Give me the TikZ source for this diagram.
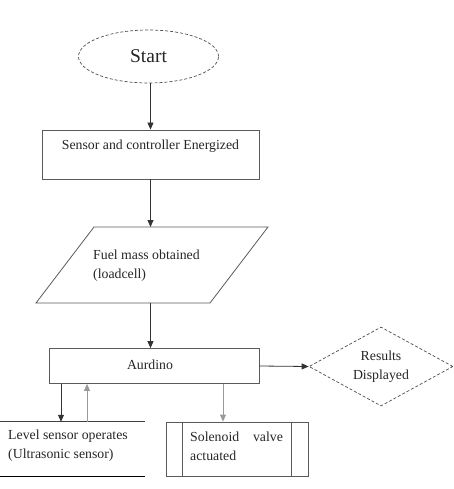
\documentclass[tikz,border=0pt]{standalone}
\usepackage{fontspec}
\setmainfont{Liberation Serif}
\usetikzlibrary{shapes.geometric,arrows.meta}

\definecolor{lineclr}{HTML}{5a5a5a}
\definecolor{lightclr}{HTML}{9a9a9a}

\tikzset{
  txt/.style={font=\fontsize{13.8}{19}\selectfont, text=black!85, inner sep=0pt},
  box/.style={rectangle, draw=lineclr, line width=0.8pt, inner sep=0pt},
  dashbox/.style={draw=black!70, dash pattern=on 3pt off 2pt, line width=0.7pt, inner sep=0pt},
  arr/.style={-{Triangle[length=7pt,width=6pt]}, line width=0.8pt, draw=black!80},
}

\begin{document}
\begin{tikzpicture}[x=1pt,y=-1pt]

\useasboundingbox (0,0) rectangle (453,489);

% start and power up
\node (start) at (148.5,56.5) [ellipse, dashbox, minimum width=140pt, minimum height=53pt, txt, font=\fontsize{19.5}{22}\selectfont] {Start};
\node (energ) at (150.5,154.5) [box, minimum width=217pt, minimum height=49pt] {};
\node (energtxt) at (150.5,146) [txt] {Sensor and controller Energized};

% load cell input
\draw[lineclr, line width=0.8pt] (94,227) -- (268,227) -- (210,303) -- (36,303) -- cycle;
\coordinate (fueltop) at (150.5,227);
\coordinate (fuelbot) at (150.5,303);
\node (fueltxt) at (93,266) [txt, anchor=west, align=left] {Fuel mass obtained\\(loadcell)};

% controller and output
\node (aurdino) at (154,366) [box, minimum width=210pt, minimum height=35pt] {};
\node (aurdinotxt) at (150,365) [txt] {Aurdino};
\node (result) at (381,366.5) [diamond, aspect=1.82, dashbox, minimum width=144pt, minimum height=79pt, txt, align=center] {Results\\Displayed};

% sensor and valve
\node (level) at (72.5,449) [minimum width=145pt, minimum height=54pt, inner sep=0pt] {};
\draw[line width=0.8pt, black!75] (level.north west) -- (level.north east);
\draw[line width=1pt, black] (level.south west) -- (level.south east);
\node (leveltxt) at (8,446) [txt, anchor=west, align=left] {Level sensor operates\\(Ultrasonic sensor)};

\node (valve) at (237,449) [box, minimum width=142pt, minimum height=54pt] {};
\draw[lineclr, line width=0.8pt] ([xshift=17pt]valve.north west) -- ([xshift=17pt]valve.south west);
\draw[lineclr, line width=0.8pt] ([xshift=-17pt]valve.north east) -- ([xshift=-17pt]valve.south east);
\node (valvetxt) at (190,446) [txt, anchor=west, align=left] {Solenoid\quad valve\\actuated};

\coordinate (down) at (61,0);
\coordinate (up) at (87,0);
\coordinate (valvein) at (223,0);

\draw[arr] (start.south -| energ.north) -- (energ.north);
\draw[arr] (energ.south) -- (fueltop);
\draw[arr] (fuelbot) -- (fuelbot |- aurdino.north);
\draw[arr] (aurdino.east) -- (result.west);
\draw[arr] (down |- aurdino.south) -- (down |- level.north);
\draw[arr, lightclr] (up |- level.north) -- (up |- aurdino.south);
\draw[arr, lightclr] (valvein |- aurdino.south) -- (valvein |- valve.north);

\end{tikzpicture}
\end{document}
